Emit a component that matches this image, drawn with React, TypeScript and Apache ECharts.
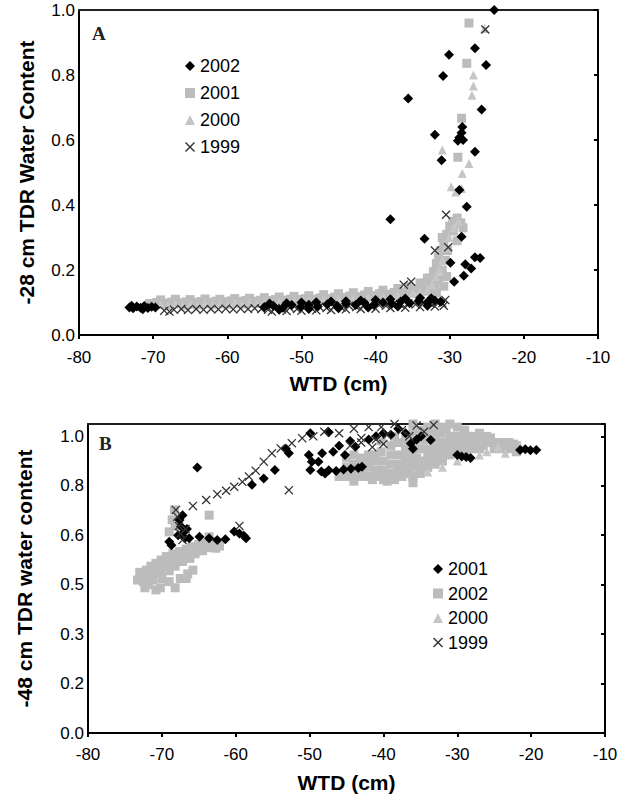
import React, { useEffect, useRef } from "react";
import * as echarts from "echarts";

type P = [number, number];

// ---------- Panel A (-28 cm) ----------
const a2002: P[] = [
  [-73.2, 0.085], [-72.7, 0.082], [-72.2, 0.088], [-71.7, 0.084], [-71.2, 0.089], [-70.7, 0.083], [-70.2, 0.087], [-69.7, 0.085], [-72.9, 0.09], [-71.4, 0.079],
  [-55.0, 0.086], [-53.8, 0.09], [-52.5, 0.084], [-51.3, 0.092], [-50.1, 0.087], [-49.0, 0.093], [-47.8, 0.088], [-46.5, 0.095], [-45.2, 0.09], [-44.0, 0.097], [-42.7, 0.092], [-41.5, 0.099], [-40.2, 0.094], [-39.0, 0.1], [-37.8, 0.096], [-36.6, 0.103], [-35.4, 0.098], [-34.2, 0.105], [-33.0, 0.1], [-32.0, 0.106], [-31.2, 0.102],
  [-54.3, 0.097], [-52, 0.098], [-50, 0.1], [-48, 0.101], [-46, 0.103], [-44, 0.104], [-42, 0.106], [-40, 0.108], [-38, 0.11], [-36, 0.112], [-34, 0.114], [-32.5, 0.113], [-53, 0.078], [-49, 0.08], [-45, 0.082], [-41, 0.085], [-37, 0.088], [-33, 0.09],
  [-24.0, 1.0], [-26.6, 0.882], [-30.1, 0.862], [-25.1, 0.831], [-30.9, 0.797], [-35.6, 0.728], [-25.7, 0.694], [-28.3, 0.64], [-28.4, 0.622], [-28.7, 0.608], [-28.2, 0.6], [-28.9, 0.598], [-32.0, 0.616], [-26.6, 0.564], [-31.1, 0.538], [-28.7, 0.446], [-27.7, 0.395], [-38.0, 0.356], [-28.4, 0.302], [-33.4, 0.296], [-29.9, 0.222], [-26.6, 0.239], [-25.9, 0.237], [-27.9, 0.218], [-27.1, 0.205], [-28.1, 0.182], [-29.4, 0.164],
];
const a2001: P[] = [
  [-70.5, 0.097], [-69.5, 0.1], [-68.5, 0.098], [-67.5, 0.101], [-66.5, 0.099], [-65.5, 0.102], [-64.5, 0.1], [-63.5, 0.103], [-62.5, 0.101], [-61.5, 0.104], [-60.5, 0.102], [-59.5, 0.105], [-58.5, 0.103], [-57.5, 0.106], [-56.5, 0.104], [-55.5, 0.107], [-54.5, 0.106], [-53.5, 0.109], [-52.5, 0.107], [-51.5, 0.11], [-50.5, 0.109], [-49.5, 0.112], [-48.5, 0.11], [-47.5, 0.114], [-46.5, 0.112], [-45.5, 0.117], [-44.5, 0.115], [-43.5, 0.12], [-42.5, 0.118], [-41.5, 0.123], [-40.5, 0.121], [-39.5, 0.127], [-38.5, 0.125], [-37.5, 0.131], [-36.5, 0.133], [-35.5, 0.138], [-34.5, 0.142], [-33.8, 0.15], [-33.2, 0.16], [-32.7, 0.175], [-32.2, 0.195], [-31.8, 0.22], [-31.5, 0.24], [-31.2, 0.26], [-30.8, 0.285], [-30.4, 0.31], [-30.0, 0.335], [-29.6, 0.35], [-29.0, 0.36], [-28.5, 0.345], [-28.2, 0.33],
  [-69, 0.108], [-67, 0.11], [-65, 0.109], [-63, 0.111], [-61, 0.11], [-59, 0.112], [-57, 0.113], [-55, 0.115], [-53, 0.117], [-51, 0.119], [-49, 0.121], [-47, 0.124], [-45, 0.127], [-43, 0.13], [-41, 0.134], [-39, 0.138], [-37, 0.143], [-35.5, 0.15], [-34, 0.16], [-33, 0.175],
  [-45, 0.105], [-42, 0.108], [-39, 0.112], [-36, 0.118], [-34, 0.125], [-33, 0.135], [-32, 0.15], [-31.5, 0.17], [-31, 0.2], [-30.6, 0.23], [-30.3, 0.26], [-31.8, 0.13], [-30.8, 0.15], [-30.4, 0.18],
  [-27.4, 0.96], [-27.7, 0.836], [-28.4, 0.667], [-28.9, 0.547], [-29.5, 0.32], [-31, 0.3], [-29, 0.29],
];
const a2000: P[] = [
  [-69, 0.094], [-67, 0.096], [-65, 0.095], [-63, 0.097], [-61, 0.096], [-59, 0.098], [-57, 0.099], [-55, 0.1], [-53, 0.102], [-51, 0.104], [-49, 0.106], [-47, 0.108], [-45, 0.111], [-43, 0.113], [-41, 0.116], [-39, 0.119], [-37, 0.123], [-35, 0.128], [-34, 0.132], [-33, 0.14], [-32.4, 0.155], [-31.9, 0.18], [-31.4, 0.2], [-31.0, 0.23], [-30.6, 0.27], [-30.1, 0.3], [-29.5, 0.33], [-28.8, 0.35],
  [-68, 0.09], [-66, 0.091], [-64, 0.092], [-62, 0.093], [-60, 0.094], [-58, 0.095], [-56, 0.097], [-54, 0.098], [-52, 0.1], [-50, 0.102], [-48, 0.104], [-46, 0.106], [-44, 0.108], [-42, 0.11], [-40, 0.112], [-38, 0.115], [-36, 0.118],
  [-25.3, 0.943], [-26.8, 0.8], [-26.8, 0.766], [-27.0, 0.738], [-31.0, 0.569], [-27.4, 0.528], [-28.3, 0.497], [-29.8, 0.456], [-28.4, 0.451], [-29.2, 0.44],
];
const a1999: P[] = [
  [-68.5, 0.075], [-67.8, 0.072], [-67.2, 0.078], [-66.2, 0.08], [-65.3, 0.077], [-64.2, 0.08], [-63.2, 0.078], [-62.2, 0.08], [-61.2, 0.079], [-60.2, 0.081], [-59.2, 0.079], [-58.2, 0.081], [-57.2, 0.08], [-56.3, 0.082], [-55.4, 0.08],
  [-54.5, 0.078], [-53.5, 0.083], [-52.6, 0.079], [-51.6, 0.084], [-50.6, 0.08], [-49.6, 0.085], [-48.6, 0.081], [-47.6, 0.087], [-46.6, 0.083], [-45.6, 0.088], [-44.6, 0.084], [-43.6, 0.09], [-42.6, 0.086], [-41.6, 0.092], [-40.6, 0.088], [-39.6, 0.094], [-38.6, 0.09], [-37.6, 0.096], [-36.6, 0.092], [-35.6, 0.098], [-34.6, 0.094], [-33.6, 0.1], [-32.6, 0.096], [-31.8, 0.102], [-31.0, 0.098], [-30.6, 0.108],
  [-54, 0.072], [-52, 0.074], [-50, 0.075], [-48, 0.076], [-46, 0.077], [-44, 0.079], [-42, 0.08], [-40, 0.081], [-38, 0.083], [-36, 0.084], [-34, 0.086], [-32, 0.088], [-30.8, 0.09],
  [-30.5, 0.37], [-32.0, 0.26], [-30.2, 0.27], [-35.2, 0.164], [-36.2, 0.155], [-25.2, 0.94],
];

// ---------- Panel B (-48 cm) ----------
const b2001: P[] = [
  [-65.2, 0.859],
  [-67.2, 0.705], [-67.6, 0.689], [-67.4, 0.668], [-67.2, 0.646], [-66.9, 0.63], [-66.3, 0.63], [-69.0, 0.619], [-68.7, 0.608], [-67.8, 0.64], [-66.6, 0.66],
  [-64.9, 0.635], [-63.6, 0.63], [-62.5, 0.625], [-61.4, 0.627], [-60.2, 0.652], [-59.5, 0.646], [-58.6, 0.63], [-58.9, 0.638],
  [-57.8, 0.803], [-56.2, 0.824], [-54.7, 0.851],
  [-53.2, 0.92], [-52.8, 0.905], [-50.1, 0.9], [-48.8, 0.878], [-49.7, 0.878], [-49.9, 0.851], [-48.3, 0.905], [-46.8, 0.91], [-45.2, 0.9], [-43.8, 0.926], [-49.9, 0.97], [-47.4, 0.973],
  [-48.4, 0.846], [-47.4, 0.85], [-46.4, 0.848], [-45.4, 0.853], [-44.4, 0.855], [-43.4, 0.858], [-42.9, 0.862], [-47.9, 0.84],
  [-42, 0.95], [-41, 0.96], [-40, 0.97], [-39, 0.965], [-38, 0.985], [-37, 0.97], [-36.3, 0.937], [-36, 0.92], [-35.5, 0.95], [-34.9, 0.96], [-33.6, 0.948], [-47.5, 0.975], [-46, 0.93], [-44.5, 0.945],
  [-30, 0.9], [-29.4, 0.895], [-28.8, 0.893], [-28.2, 0.89],
  [-21.5, 0.916], [-20.8, 0.918], [-20.1, 0.915], [-19.3, 0.916],
];
const b2002: P[] = [
  [-73.3, 0.495], [-72.7, 0.51], [-72.1, 0.527], [-71.5, 0.54], [-70.8, 0.549], [-70.1, 0.56], [-69.4, 0.571], [-68.5, 0.58], [-67.6, 0.587], [-66.7, 0.595], [-65.8, 0.603], [-64.9, 0.605], [-64.0, 0.603], [-63.3, 0.6], [-62.7, 0.598], [-71.2, 0.495], [-70.8, 0.463], [-69.0, 0.49], [-66.7, 0.5], [-65.8, 0.527], [-72.5, 0.49], [-71.8, 0.51], [-70.2, 0.52], [-69.5, 0.54], [-68.8, 0.555], [-67.8, 0.565], [-66.8, 0.575], [-65.5, 0.58], [-64.5, 0.59], [-68.3, 0.722], [-69.0, 0.651], [-63.6, 0.705], [-63.6, 0.635], [-66.3, 0.592], [-68.6, 0.69], [-68.2, 0.67], [-64.2, 0.615], [-62.5, 0.612],
  [-73, 0.52], [-72.3, 0.47], [-71.8, 0.48], [-71, 0.52], [-70.5, 0.535], [-70, 0.5], [-69.8, 0.55], [-69, 0.525], [-68.2, 0.54], [-68, 0.57], [-67.2, 0.555], [-67, 0.58], [-66.2, 0.565], [-66, 0.6], [-65.2, 0.59], [-65, 0.61], [-64.2, 0.6], [-63.5, 0.615], [-62.8, 0.62], [-62.2, 0.605], [-67.5, 0.5], [-66.5, 0.515], [-70.2, 0.47], [-68.2, 0.47],
  [-45, 0.89], [-45, 0.86], [-45, 0.83], [-44, 0.84], [-43, 0.83], [-42, 0.86], [-42, 0.83], [-41, 0.88], [-41, 0.85], [-40.3, 0.945], [-40.3, 0.91], [-40, 0.82], [-39, 0.87], [-39, 0.84], [-38, 0.9], [-38, 0.83], [-37, 0.95], [-37, 0.92], [-37, 0.86], [-36.5, 0.84], [-36, 1.0], [-36, 0.97], [-35.5, 0.89], [-35, 0.86], [-35, 0.92], [-34, 0.99], [-34, 0.95], [-34, 0.88], [-33, 1.0], [-33, 0.93], [-33, 0.87], [-32.2, 0.97], [-32, 0.9], [-31.5, 0.98], [-31, 0.94], [-30.5, 0.91], [-30, 0.99], [-29.5, 0.96], [-29, 0.93], [-28.5, 0.96], [-28, 0.92], [-27, 0.95], [-26.5, 0.93], [-25.5, 0.955], [-25, 0.92], [-24, 0.94], [-23, 0.92], [-22.4, 0.935], [-22, 0.91], [-38.5, 0.96], [-43, 0.87], [-44, 0.815], [-41.5, 0.82], [-39.5, 0.815], [-37.5, 0.83], [-36, 0.81],
  [-44, 0.87], [-44, 0.9], [-43, 0.85], [-43, 0.89], [-42, 0.88], [-42, 0.9], [-41, 0.83], [-41, 0.9], [-40, 0.85], [-40, 0.88], [-39, 0.83], [-39, 0.9], [-39, 0.93], [-38, 0.85], [-38, 0.87], [-38, 0.94], [-37, 0.84], [-37, 0.88], [-37, 0.9], [-36, 0.83], [-36, 0.86], [-36, 0.88], [-36, 0.9], [-36, 0.94], [-35, 0.84], [-35, 0.88], [-35, 0.95], [-35, 0.98], [-34, 0.86], [-34, 0.9], [-34, 0.92], [-34, 0.97], [-33, 0.89], [-33, 0.91], [-33, 0.95], [-33, 0.97], [-32, 0.88], [-32, 0.92], [-32, 0.94], [-32, 0.99], [-31, 0.9], [-31, 0.92], [-31, 0.96], [-31, 1.0], [-30, 0.92], [-30, 0.94], [-30, 0.96], [-29, 0.91], [-29, 0.95], [-29, 0.98], [-28, 0.94], [-28, 0.96], [-27, 0.92], [-27, 0.97], [-26, 0.94], [-26, 0.96], [-25, 0.94], [-24, 0.92], [-23, 0.94], [-22, 0.93], [-45.5, 0.84], [-46, 0.83], [-40.5, 0.83], [-38.5, 0.82],
];
const b2000: P[] = [
  [-27, 0.9], [-26, 0.91], [-24.5, 0.925], [-23.5, 0.905], [-21.5, 0.93], [-30, 0.88], [-32, 0.86], [-34, 0.845],
];
const b1999: P[] = [
  [-68.1, 0.722], [-65.8, 0.735], [-64.0, 0.754], [-62.5, 0.773], [-61.3, 0.784], [-60.2, 0.797], [-59.1, 0.813], [-58.2, 0.83], [-57.3, 0.849], [-56.2, 0.878], [-55.1, 0.905], [-53.9, 0.921], [-52.4, 0.938], [-51.0, 0.954], [-52.8, 0.786], [-59.5, 0.67], [-67.9, 0.7], [-67.7, 0.67], [-67.5, 0.645], [-67.2, 0.625], [-66.8, 0.66],
  [-49.5, 0.96], [-48, 0.975], [-46, 0.97], [-44, 0.985], [-42, 0.99], [-40.3, 0.99], [-39.5, 0.965], [-38.5, 1.0], [-37.5, 0.98], [-36.5, 0.96], [-35.5, 0.995], [-34.5, 0.975], [-33.2, 0.997], [-41, 0.95], [-43, 0.955],
  [-44.5, 0.93], [-43, 0.94], [-41.5, 0.925], [-40, 0.935],
];

const legendA = ["2002", "2001", "2000", "1999"];
const legendB = ["2001", "2002", "2000", "1999"];

const X_MIN = -80, X_MAX = -10, X_STEP = 10;

const CROSS = "path://M0,1L1,0L5,4L9,0L10,1L6,5L10,9L9,10L5,6L1,10L0,9L4,5Z";
const FONT = '"Liberation Sans", Arial, Helvetica, sans-serif';

const BLACK = "#000000";
const GRAY_SQ = "#bcbcbc";
const GRAY_TRI = "#c6c6c6";
const CROSS_C = "#333333";

export default function App() {
  const ref = useRef<HTMLDivElement>(null);
  useEffect(() => {
    if (!ref.current) return;
    const chart = echarts.init(ref.current, undefined, { renderer: "svg" });

    const xBottom = (grid: number, gap: number, margin: number) => ({
      gridIndex: grid, type: "value", min: X_MIN, max: X_MAX, interval: X_STEP, position: "bottom",
      axisLine: { show: true, onZero: false, lineStyle: { color: "#000", width: 2 } },
      axisTick: { show: true, inside: false, length: 4, lineStyle: { color: "#000", width: 2 } },
      axisLabel: { fontSize: 17, color: "#000", margin, fontFamily: FONT, formatter: (v: number) => String(v) },
      splitLine: { show: false },
      name: "WTD (cm)", nameLocation: "middle", nameGap: gap,
      nameTextStyle: { fontSize: 21, fontWeight: "bold", color: "#000", fontFamily: FONT },
    });
    const xTop = (grid: number) => ({
      gridIndex: grid, type: "value", min: X_MIN, max: X_MAX, position: "top",
      axisLine: { show: true, onZero: false, lineStyle: { color: "#222", width: 2 } },
      axisTick: { show: false }, axisLabel: { show: false }, splitLine: { show: false },
    });
    const yLeft = (grid: number, max: number, interval: number, name: string, gap: number) => ({
      gridIndex: grid, type: "value", min: 0, max, interval, position: "left",
      axisLine: { show: true, onZero: false, lineStyle: { color: "#000", width: 2 } },
      axisTick: { show: false },
      axisLabel: {
        fontSize: 17, color: "#000", margin: 4, fontFamily: FONT,
        formatter: (v: number) => (v > max - 0.001 && Math.abs(v / interval - Math.round(v / interval)) > 0.01 ? "" : v.toFixed(1)),
      },
      splitLine: { show: false },
      name, nameLocation: "middle", nameGap: gap, nameRotate: 90,
      nameTextStyle: { fontSize: 21, fontWeight: "bold", color: "#000", fontFamily: FONT },
    });
    const yRight = (grid: number, max: number, interval: number) => ({
      gridIndex: grid, type: "value", min: 0, max, interval, position: "right",
      axisLine: { show: true, onZero: false, lineStyle: { color: "#000", width: 2 } },
      axisTick: { show: true, inside: true, length: 4, lineStyle: { color: "#000", width: 2 } },
      axisLabel: { show: false }, splitLine: { show: false },
    });

    const mk = (name: string, data: P[], kind: string, xi: number, yi: number, z: number) => {
      const base: any = { name, type: "scatter", data, xAxisIndex: xi, yAxisIndex: yi, z, silent: true };
      if (kind === "diamond") return { ...base, symbol: "diamond", symbolSize: 10, itemStyle: { color: BLACK, opacity: 1 } };
      if (kind === "square") return { ...base, symbol: "rect", symbolSize: 9, itemStyle: { color: GRAY_SQ, opacity: 1 } };
      if (kind === "triangle") return { ...base, symbol: "triangle", symbolSize: 9, itemStyle: { color: GRAY_TRI, opacity: 1 } };
      return { ...base, symbol: CROSS, symbolSize: 9, itemStyle: { color: CROSS_C, opacity: 1 } };
    };

    const option: any = {
      animation: false,
      textStyle: { fontFamily: FONT },
      grid: [
        { left: 79, top: 10, width: 519, height: 325 },
        { left: 88, top: 424, width: 517, height: 309 },
      ],
      xAxis: [xBottom(0, 38, 14), xTop(0), xBottom(1, 39, 13), xTop(1)],
      yAxis: [
        yLeft(0, 1, 0.2, "-28 cm TDR Water Content", 42),
        yRight(0, 1, 0.2),
        yLeft(1, 1, 0.16, "-48 cm TDR water content", 53),
        yRight(1, 1, 0.16),
      ],
      legend: [
        {
          data: legendA.map((n) => "A" + n), orient: "vertical", left: 185, top: 57,
          itemWidth: 10, itemHeight: 10, itemGap: 9, selectedMode: false,
          formatter: (n: string) => n.slice(1),
          textStyle: { fontSize: 18, color: "#000", fontFamily: FONT },
          padding: 0,
        },
        {
          data: legendB.map((n) => "B" + n), orient: "vertical", left: 433, top: 560,
          itemWidth: 10, itemHeight: 10, itemGap: 6.5, selectedMode: false,
          formatter: (n: string) => n.slice(1),
          textStyle: { fontSize: 18, color: "#000", fontFamily: FONT },
          padding: 0,
        },
      ],
      graphic: [
        { type: "text", left: 92, top: 24, style: { text: "A", font: 'bold 19px "Liberation Serif", "Times New Roman", serif', fill: "#222" } },
        { type: "text", left: 99, top: 434, style: { text: "B", font: 'bold 19px "Liberation Serif", "Times New Roman", serif', fill: "#222" } },
      ],
      series: [
        mk("A2001", a2001, "square", 0, 0, 2),
        mk("A2000", a2000, "triangle", 0, 0, 3),
        mk("A1999", a1999, "cross", 0, 0, 4),
        mk("A2002", a2002, "diamond", 0, 0, 5),
        mk("B2002", b2002, "square", 2, 2, 2),
        mk("B2000", b2000, "triangle", 2, 2, 3),
        mk("B2001", b2001, "diamond", 2, 2, 4),
        mk("B1999", b1999, "cross", 2, 2, 5),
      ],
    };
    chart.setOption(option);
    return () => chart.dispose();
  }, []);
  return <div ref={ref} style={{ position: "absolute", left: 0, top: 0, width: 632, height: 804 }} />;
}
